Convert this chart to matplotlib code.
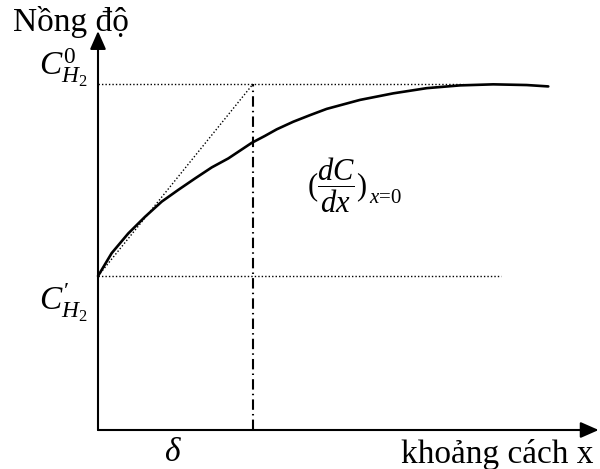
import matplotlib.pyplot as plt

plt.rcParams['font.family'] = ['Liberation Serif', 'DejaVu Serif']
plt.rcParams['mathtext.fontset'] = 'custom'
plt.rcParams['mathtext.rm'] = 'Liberation Serif'
plt.rcParams['mathtext.it'] = 'Liberation Serif:italic'

# concentration profile near the electrode (x in units of delta, C / C0)
distance = [0, 0.088, 0.195, 0.303, 0.411, 0.518, 0.626, 0.734, 0.841, 0.992, 1.077,
            1.153, 1.26, 1.368, 1.475, 1.69, 1.905, 2.121, 2.335, 2.55, 2.766, 2.905]
conc = [0.445, 0.511, 0.568, 0.616, 0.660, 0.694, 0.727, 0.759, 0.785, 0.830, 0.850,
        0.869, 0.891, 0.910, 0.928, 0.954, 0.973, 0.988, 0.996, 0.999, 0.997, 0.993]

delta = 1.0
c_bulk = 1.0
c_surface = 0.445
bulk_line_end = 2.355
surface_line_end = 2.6
x_axis_end = 3.23
y_axis_end = 1.153

fig = plt.figure(figsize=(6, 4.69), dpi=100)
ax = fig.add_axes([0, 0, 1, 1])
ax.set_xlim(-98 / 155, 502 / 155)
ax.set_ylim(-39 / 346, 430 / 346)
ax.axis('off')

# axes with arrow heads
arrow = dict(arrowstyle='-|>,head_length=0.5,head_width=0.22', lw=1.5, color='black',
             mutation_scale=22, shrinkA=0, shrinkB=0)
ax.annotate('', xy=(x_axis_end, 0), xytext=(0, 0), arrowprops=arrow)
ax.annotate('', xy=(0, y_axis_end), xytext=(0, 0), arrowprops=arrow)

dots = (0, (1, 1.5))
ax.plot([0, bulk_line_end], [c_bulk, c_bulk], color='black', lw=1, linestyle=dots)
ax.plot([0, surface_line_end], [c_surface, c_surface], color='black', lw=1, linestyle=dots)
# tangent at x = 0
ax.plot([0, delta], [c_surface, c_bulk], color='black', lw=1, linestyle=dots)
# diffusion layer thickness
ax.plot([delta, delta], [0, c_bulk], color='black', lw=1.5, linestyle=(0, (5, 2, 0.7, 2)))

ax.plot(distance, conc, color='black', lw=1.9, solid_capstyle='round', solid_joinstyle='round')

ax.text(-0.548, 1.153, 'Nồng độ', fontsize=24, ha='left', va='baseline')
ax.text(3.194, -0.0954, 'khoảng cách x', fontsize=24, ha='right', va='baseline')
ax.text(delta / 2 - 0.016, -0.066, r'$\delta$', fontsize=24, ha='center', va='center')
ax.text(-0.065, 1.046, r'$C^{0}_{H_2}$', fontsize=24, ha='right', va='center')
ax.text(-0.07, 0.367, r'$C^{\prime}_{H_2}$', fontsize=24, ha='right', va='center')
ax.text(1.348, 0.706, r'$(\dfrac{dC}{dx})$', fontsize=22, ha='left', va='center')
ax.text(1.748, 0.668, r'$x$=0', fontsize=15, ha='left', va='center')

fig.savefig('out.png', dpi=100)
